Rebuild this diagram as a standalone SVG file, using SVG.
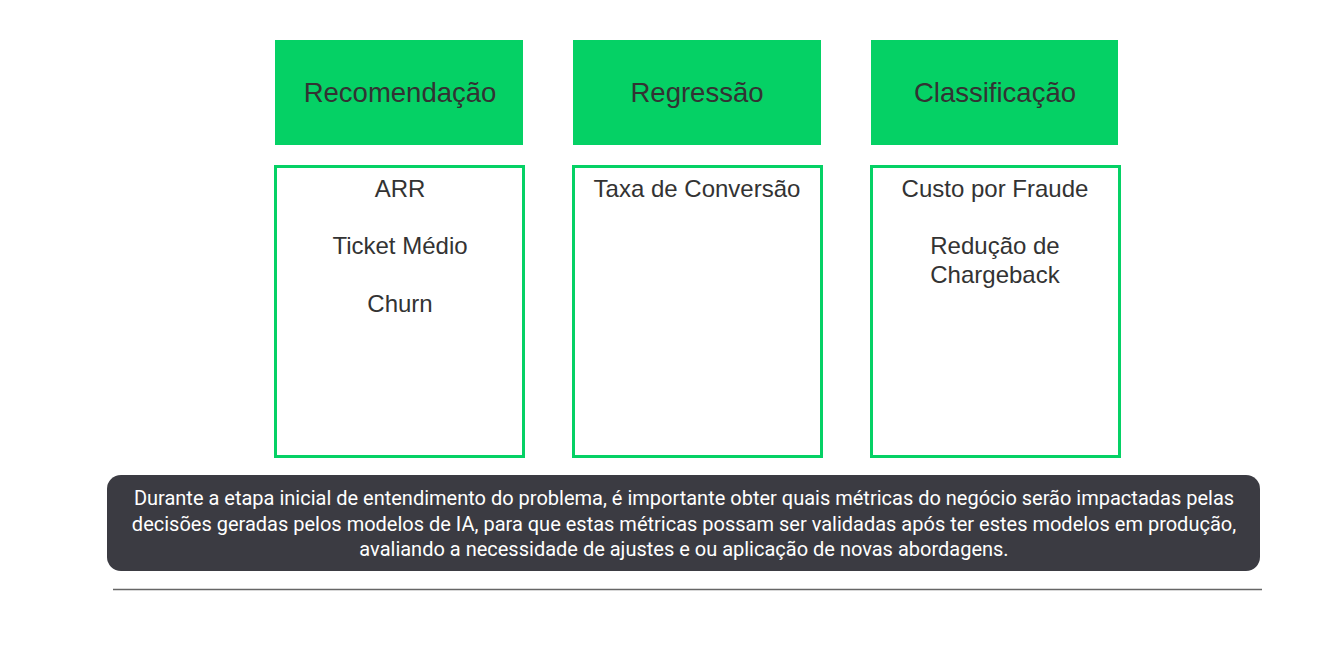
<svg xmlns="http://www.w3.org/2000/svg" width="1334" height="645" viewBox="0 0 1334 645">
<style>
.hdr{fill:#05d165}
.hdr-t{font-family:"Liberation Sans",Arial,sans-serif;font-size:27.5px;fill:#333;text-anchor:middle}
.box{fill:#fff;stroke:#05d165;stroke-width:3}
.box-t{font-family:"Liberation Sans",Arial,sans-serif;font-size:24px;fill:#333;text-anchor:middle}
.note-t{font-family:Roboto,"Liberation Sans",sans-serif;font-size:20px;fill:#fff;text-anchor:middle}
</style>
<rect width="1334" height="645" fill="#fff"/>
<g id="recomendacao">
<rect class="hdr" x="275" y="40" width="248" height="105"/>
<text class="hdr-t" x="400" y="102">Recomendação</text>
<rect class="box" x="275.5" y="166.5" width="248" height="290"/>
<text class="box-t" x="400" y="197">ARR</text>
<text class="box-t" x="400" y="254">Ticket Médio</text>
<text class="box-t" x="400" y="312">Churn</text>
</g>
<g id="regressao">
<rect class="hdr" x="573" y="40" width="248" height="105"/>
<text class="hdr-t" x="697" y="102">Regressão</text>
<rect class="box" x="573.5" y="166.5" width="248" height="290"/>
<text class="box-t" x="697" y="197">Taxa de Conversão</text>
</g>
<g id="classificacao">
<rect class="hdr" x="871" y="40" width="247" height="105"/>
<text class="hdr-t" x="995" y="102">Classificação</text>
<rect class="box" x="871.5" y="166.5" width="248" height="290"/>
<text class="box-t" x="995" y="197">Custo por Fraude</text>
<text class="box-t" x="995" y="254">Redução de</text>
<text class="box-t" x="995" y="283">Chargeback</text>
</g>
<g id="note">
<rect x="107" y="475" width="1153" height="96" rx="14" fill="#3b3b42"/>
<text class="note-t" x="684" y="505">Durante a etapa inicial de entendimento do problema, é importante obter quais métricas do negócio serão impactadas pelas</text>
<text class="note-t" x="684" y="531">decisões geradas pelos modelos de IA, para que estas métricas possam ser validadas após ter estes modelos em produção,</text>
<text class="note-t" x="684" y="556">avaliando a necessidade de ajustes e ou aplicação de novas abordagens.</text>
</g>
<g id="connectors">
<line x1="113" y1="589.5" x2="1262" y2="589.5" stroke="#666" stroke-width="1.5"/>
</g>
</svg>
